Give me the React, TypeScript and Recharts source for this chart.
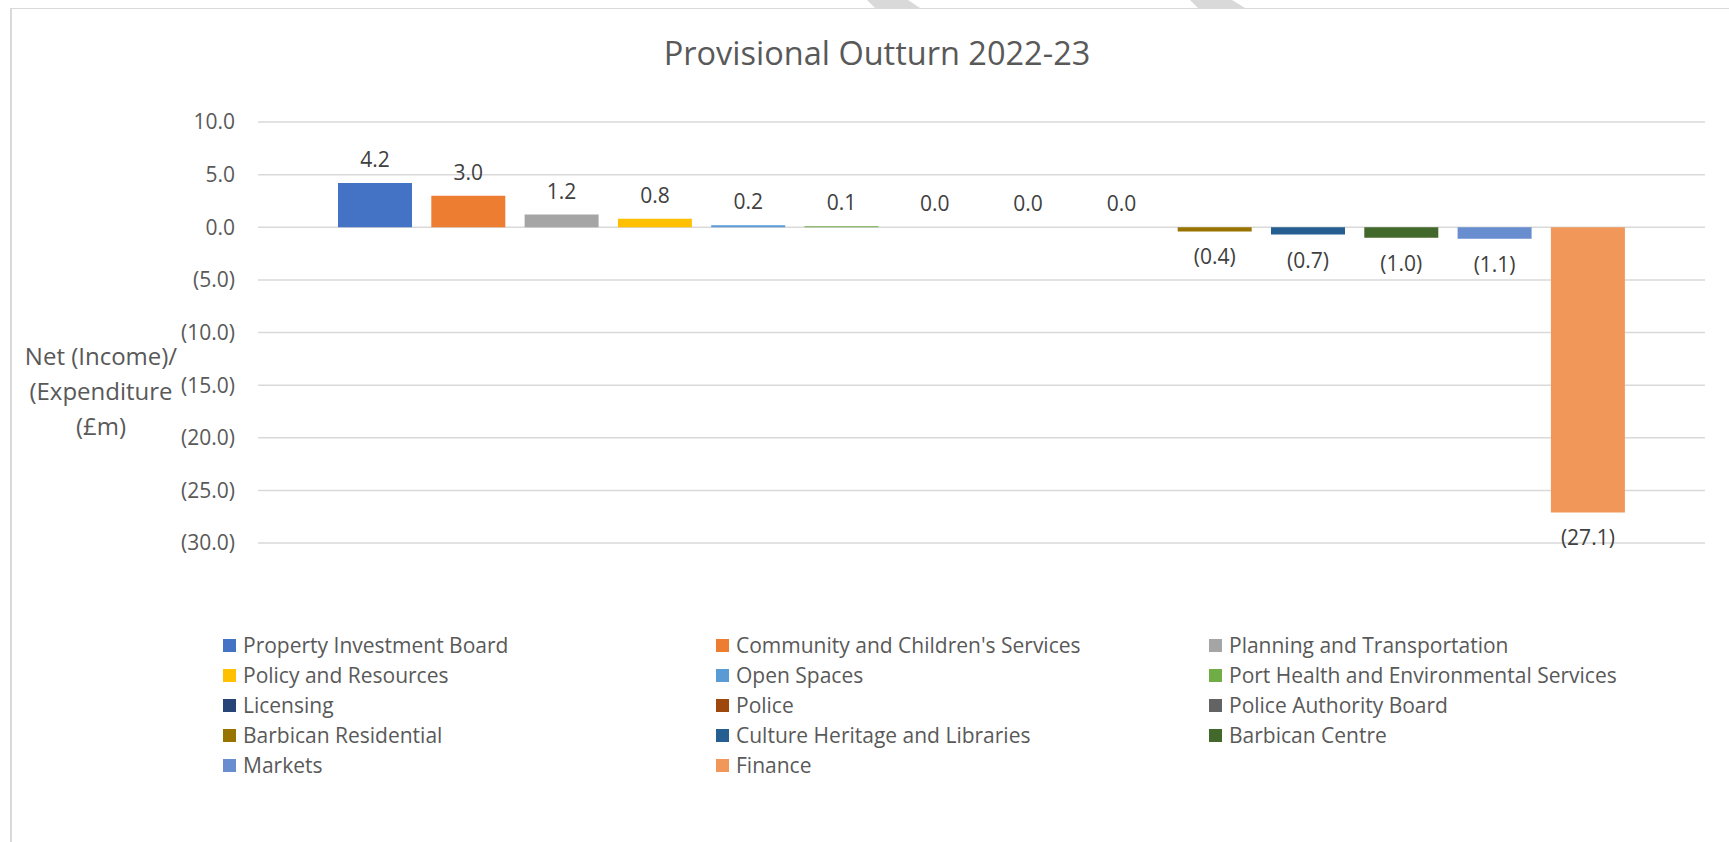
import React from 'react'
import { Bar, BarChart, CartesianGrid, LabelList, Legend, XAxis, YAxis } from 'recharts'

const departments = [
  'Property Investment Board',
  "Community and Children's Services",
  'Planning and Transportation',
  'Policy and Resources',
  'Open Spaces',
  'Port Health and Environmental Services',
  'Licensing',
  'Police',
  'Police Authority Board',
  'Barbican Residential',
  'Culture Heritage and Libraries',
  'Barbican Centre',
  'Markets',
  'Finance',
]

// the three "0.0" ones are tiny, not exactly zero
const outturn = [4.2, 3.0, 1.2, 0.8, 0.2, 0.1, 0.004, 0.003, 0.003, -0.4, -0.7, -1.0, -1.1, -27.1]

const colors = [
  '#4472C4', '#ED7D31', '#A5A5A5', '#FFC000', '#5B9BD5', '#70AD47', '#264478',
  '#9E480E', '#636363', '#997300', '#255E91', '#43682B', '#698ED0', '#F1975A',
]

const yTicks = [10, 5, 0, -5, -10, -15, -20, -25, -30]

const FONT = '"Open Sans", sans-serif'
const GREY = '#595959'

// one category, one series per department (like the Excel chart)
const row: Record<string, number | string> = { name: '2022-23' }
departments.forEach((d, i) => { row['d' + i] = outturn[i] })
const data = [row]

const fmt = (v: number) => (v < 0 ? `(${Math.abs(v).toFixed(1)})` : v.toFixed(1))

const renderLabel = (props: any) => {
  const vb = props.viewBox || props
  const x = Number(vb.x), y = Number(vb.y), w = Number(vb.width), h = Number(vb.height)
  const v = Number(props.value)
  const top = Math.min(y, y + h)
  const bottom = Math.max(y, y + h)
  const cy = v >= 0 ? top - 24 : bottom + 25
  return (
    <text x={x + w / 2} y={cy} textAnchor="middle" dominantBaseline="central"
      fill="#404040" fontSize={21} fontFamily={FONT}>
      {fmt(v)}
    </text>
  )
}

// legend in the original order, three columns
const LegendGrid = () => (
  <div style={{ display: 'grid', gridTemplateColumns: '493px 493px 493px', height: 150, fontFamily: FONT }}>
    {departments.map((d, i) => (
      <div key={d} style={{ display: 'flex', alignItems: 'center', height: 28.6 }}>
        <span style={{ width: 13, height: 13, background: colors[i], marginRight: 7 }} />
        <span style={{ fontSize: 21, color: GREY, whiteSpace: 'nowrap' }}>{d}</span>
      </div>
    ))}
  </div>
)

export default function App() {
  return (
    <div style={{ position: 'absolute', left: 0, top: 0, width: 1729, height: 842, overflow: 'hidden', background: '#fff' }}>
      <div style={{ position: 'absolute', left: 10, top: 8, width: 1719, height: 1, background: '#d9d9d9' }} />
      <div style={{ position: 'absolute', left: 10, top: 8, width: 2, height: 834, background: '#d9d9d9' }} />
      <svg style={{ position: 'absolute', left: 0, top: 0 }} width={1729} height={9}>
        <polygon points="867,0 908,0 920,8 875,8" fill="#d9d9d9" />
        <polygon points="1190,0 1232,0 1245,8 1198,8" fill="#d9d9d9" />
      </svg>
      <div style={{ position: 'absolute', left: 0, top: 52, width: 1754, textAlign: 'center', transform: 'translateY(-50%)',
        fontFamily: FONT, fontSize: 32.5, color: GREY }}>
        Provisional Outturn 2022-23
      </div>
      <div style={{ position: 'absolute', left: 0, top: 0 }}>
        <BarChart width={1729} height={842} data={data} barGap={19.3}
          margin={{ top: 122, right: 24, bottom: 149, left: 0 }}>
          <CartesianGrid vertical={false} stroke="#d9d9d9" strokeWidth={1.5} />
          <XAxis dataKey="name" hide />
          <YAxis domain={[-30, 10]} ticks={yTicks} width={258} axisLine={false} tickLine={false}
            tickMargin={17} tickFormatter={fmt} interval={0}
            tick={{ fill: GREY, fontSize: 21, fontFamily: FONT }}
            label={{
              content: () => (
                <text textAnchor="middle" fill={GREY} fontSize={24} fontFamily={FONT}>
                  <tspan x={101} y={355} dominantBaseline="central">Net (Income)/</tspan>
                  <tspan x={101} y={390} dominantBaseline="central">(Expenditure</tspan>
                  <tspan x={101} y={425} dominantBaseline="central">(£m)</tspan>
                </text>
              ),
            }} />
          <Legend verticalAlign="bottom" content={<LegendGrid />}
            wrapperStyle={{ top: 631, left: 223, bottom: 'auto', width: 1500 }} />
          {departments.map((d, i) => (
            <Bar key={d} dataKey={'d' + i} name={d} fill={colors[i]} barSize={74} isAnimationActive={false}>
              <LabelList dataKey={'d' + i} content={renderLabel} />
            </Bar>
          ))}
        </BarChart>
      </div>
    </div>
  )
}
